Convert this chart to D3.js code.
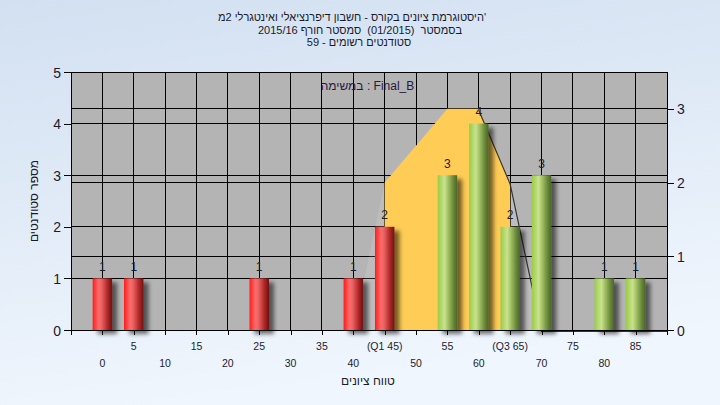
<!DOCTYPE html>
<html><head><meta charset="utf-8">
<script src="https://cdn.jsdelivr.net/npm/d3@7"></script>
<style>html,body{margin:0;padding:0;overflow:hidden;background:#e4edf8;} svg{display:block;font-family:"Liberation Sans",Arial,sans-serif;}</style>
</head><body><svg id="c" width="720" height="405"></svg>
<script>
// ---- data ----
const categories = [0,5,10,15,20,25,30,35,40,45,50,55,60,65,70,75,80,85];
const counts     = [1,1,0,0,0,1,0,0,1,2,0,3,4,2,3,0,1,1];
const xTickLabels = ["0","5","10","15","20","25","30","35","40","(Q1 45)","50","55","60","(Q3 65)","70","75","80","85"];
const leftTicks  = [0,1,2,3,4,5];
const rightTicks = [0,1,2,3];
const curveX = [40,45,50,55,60,65,70,75,80,85,90];
const curveY = [0,2,2.5,3,3,2,0,0,0,0,0];
const q1 = 45, q3 = 65, curvePeakX = 60;
const passMark = 55;
const titleLines = [
  "היסטוגרמת ציונים בקורס - חשבון דיפרנציאלי ואינטגרלי 2מ'",
  "בסמסטר  (01/2015)  סמסטר חורף 2015/16",
  "סטודנטים רשומים - 59"
];
const annotation = "במשימה : Final_B";
const xTitle = "טווח ציונים";
const yTitle = "מספר סטודנטים";

const svg = d3.select("#c");
const W = 720, H = 405;
const L = 71, R = 667, T = 72, B = 330;

const defs = svg.append("defs");
const bg = defs.append("linearGradient").attr("id","bg").attr("x1",0).attr("y1",0).attr("x2",0.25).attr("y2",1);
bg.append("stop").attr("offset","0%").attr("stop-color","#d2e0f1");
bg.append("stop").attr("offset","100%").attr("stop-color","#f0f6fd");
function cyl(id, stops){
  const g = defs.append("linearGradient").attr("id",id).attr("x1",0).attr("y1",0).attr("x2",1).attr("y2",0);
  stops.forEach(s=>g.append("stop").attr("offset",s[0]).attr("stop-color",s[1]));
}
cyl("red",[["0%","#ff1c1c"],["30%","#ff6a6a"],["45%","#ec6464"],["75%","#b32a2a"],["100%","#6e1010"]]);
cyl("green",[["0%","#9acb48"],["35%","#c9e28e"],["50%","#a9c76a"],["80%","#6a8a3a"],["100%","#4a6626"]]);
const f = defs.append("filter").attr("id","sh").attr("x","-50%").attr("y","-20%").attr("width","200%").attr("height","140%");
f.append("feDropShadow").attr("dx",5).attr("dy",4).attr("stdDeviation",2.2).attr("flood-color","#000").attr("flood-opacity",0.55);

svg.append("rect").attr("width",W).attr("height",H).attr("fill","url(#bg)");

const x = d3.scaleLinear().domain([-5,90]).range([L,R]);
const yL = d3.scaleLinear().domain([0,5]).range([B,T]);
const yR = d3.scaleLinear().domain([0,3.5]).range([B,T]);

// plot area
svg.append("rect").attr("x",L).attr("y",T).attr("width",R-L).attr("height",B-T).attr("fill","#b4b4b4");

// grid
const grid = svg.append("g").attr("stroke","#000").attr("stroke-width",1).attr("shape-rendering","crispEdges");
leftTicks.filter(d=>d>0).forEach(d=>grid.append("line").attr("x1",L).attr("x2",R).attr("y1",yL(d)).attr("y2",yL(d)));
rightTicks.filter(d=>d>0).forEach(d=>grid.append("line").attr("x1",L).attr("x2",R).attr("y1",yR(d)).attr("y2",yR(d)));
categories.forEach(c=>grid.append("line").attr("x1",x(c)).attr("x2",x(c)).attr("y1",T).attr("y2",B));

// curve area (light) and IQR area (yellow)
const pts = curveX.map((cx,i)=>[cx,curveY[i]]);
const area = d3.area().x(d=>x(d[0])).y0(yR(0)).y1(d=>yR(d[1]));
svg.append("path").datum(pts).attr("d",area).attr("fill","#fff").attr("fill-opacity",0.12);
svg.append("path").datum(pts.filter(d=>d[0]>=q1&&d[0]<=q3)).attr("d",area).attr("fill","#ffcc55");
svg.append("path").datum(pts.filter(d=>d[0]>=curvePeakX))
  .attr("d",d3.line().x(d=>x(d[0])).y(d=>yR(d[1])+1.5))
  .attr("fill","none").attr("stroke","#333").attr("stroke-width",1.2);

// axes
const axG = svg.append("g").attr("fill","none").attr("stroke","#000").attr("shape-rendering","crispEdges");
const yAxisL = d3.axisLeft(yL).tickValues(leftTicks).tickFormat(d3.format("d")).tickSize(7).tickPadding(3);
const gl = svg.append("g").attr("transform",`translate(${L},0)`).call(yAxisL);
const yAxisR = d3.axisRight(yR).tickValues(rightTicks).tickFormat(d3.format("d")).tickSize(7).tickPadding(3);
const gr = svg.append("g").attr("transform",`translate(${R},0)`).call(yAxisR);
[gl,gr].forEach(g=>{
  g.select(".domain").remove();
  g.selectAll("line").attr("stroke","#000").attr("shape-rendering","crispEdges");
  g.selectAll("text").attr("font-size",14).attr("fill","#1c1c2c").attr("font-family","Liberation Sans, Arial, sans-serif").attr("dy","0.36em");
});
axG.append("line").attr("x1",L).attr("x2",L).attr("y1",T).attr("y2",B+5);
axG.append("line").attr("x1",R).attr("x2",R).attr("y1",T).attr("y2",B+5);
axG.append("line").attr("x1",L).attr("x2",R).attr("y1",T).attr("y2",T);
axG.append("line").attr("x1",L).attr("x2",R).attr("y1",B).attr("y2",B);
const xAxis = d3.axisBottom(x).tickValues(categories).tickSize(5).tickFormat("");
const gx = svg.append("g").attr("transform",`translate(0,${B})`).call(xAxis);
gx.select(".domain").remove();
gx.selectAll("line").attr("stroke","#000").attr("shape-rendering","crispEdges");

// staggered tick labels
svg.append("g").selectAll("text").data(categories).join("text")
  .attr("x",d=>x(d)).attr("y",(d,i)=> i%2===1 ? 350 : 366.5)
  .attr("text-anchor","middle").attr("font-size",10.5).attr("fill","#1c1c2c")
  .text((d,i)=>xTickLabels[i]);

// bars
const bw = x(1.55)-x(0);
const data = categories.map((c,i)=>({c,v:counts[i]})).filter(d=>d.v>0);
svg.append("g").selectAll("rect").data(data).join("rect")
  .attr("x",d=>x(d.c)-bw).attr("width",2*bw)
  .attr("y",d=>yL(d.v)).attr("height",d=>yL(0)-yL(d.v))
  .attr("fill",d=>d.c<passMark?"url(#red)":"url(#green)")
  .attr("filter","url(#sh)");
svg.append("g").selectAll("text").data(data).join("text")
  .attr("x",d=>x(d.c)).attr("y",d=>yL(d.v)-7.5)
  .attr("text-anchor","middle").attr("font-size",12).attr("fill","#1a2030")
  .text(d=>d.v);

// annotation
svg.append("text").attr("x",367.5).attr("y",90).attr("text-anchor","middle")
  .attr("font-size",12).attr("fill","#2a1840").text(annotation);

// titles
const tx = [352,360,359], ty=[21,33.5,46];
titleLines.forEach((t,i)=>svg.append("text").attr("x",tx[i]).attr("y",ty[i]).attr("text-anchor","middle")
  .style("white-space","pre").attr("font-size",11).attr("fill","#1a1a2a").text(t));
svg.append("text").attr("x",368).attr("y",385).attr("text-anchor","middle").attr("font-size",12)
  .attr("fill","#1a1a2a").text(xTitle);
svg.append("text").attr("transform","translate(38,201) rotate(-90)").attr("text-anchor","middle")
  .attr("font-size",12).attr("fill","#1a1a2a").text(yTitle);
</script></body></html>
